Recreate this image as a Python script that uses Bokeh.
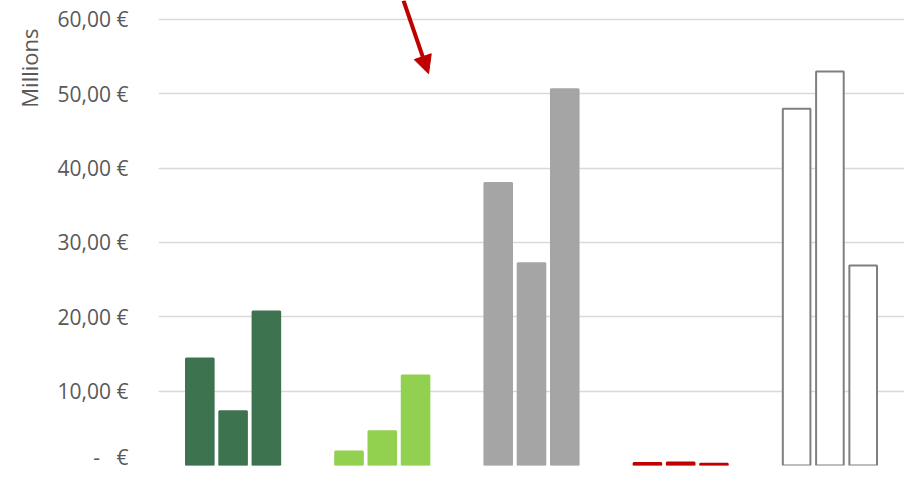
from bokeh.plotting import figure
from bokeh.models import ColumnDataSource, FactorRange, FixedTicker, Title, Arrow, NormalHead, Range1d
from bokeh.transform import dodge
from bokeh.embed import file_html
from bokeh.resources import INLINE

# ---- data (millions of euros) ----
categories = ["A", "B", "C", "D", "E"]
series_1 = [14.4, 1.9, 38.0, 0.35, 48.0]
series_2 = [7.3, 4.6, 27.2, 0.4, 53.0]
series_3 = [20.7, 12.1, 50.6, 0.25, 26.9]
fill_colors = ["#3E7350", "#92D050", "#A5A5A5", "#C00000", "#FFFFFF"]
line_colors = ["#3E7350", "#92D050", "#A5A5A5", "#C00000", "#7F7F7F"]
y_ticks = [0, 10, 20, 30, 40, 50, 60]
y_tick_labels = ["-\u00a0\u00a0\u00a0€", "10,00 €", "20,00 €", "30,00 €", "40,00 €", "50,00 €", "60,00 €"]

FONT = "Open Sans"
TXT = "#595959"
H = 470

p = figure(width=904, height=H, x_range=FactorRange(*categories, range_padding=0),
           y_range=Range1d(0, 62.55), output_backend="svg", toolbar_location=None,
           min_border_left=158, min_border_right=0, min_border_top=0, min_border_bottom=5)
p.outline_line_color = None
p.background_fill_color = "white"
p.border_fill_color = "white"

offsets = [-0.223, 0.0, 0.223]
for vals, off in zip([series_1, series_2, series_3], offsets):
    src = ColumnDataSource(dict(cat=categories, val=vals, fill=fill_colors, line=line_colors))
    p.vbar(x=dodge("cat", off, range=p.x_range), top="val", width=0.185, source=src,
           fill_color="fill", line_color="line", line_width=2)

p.xaxis.visible = False
p.xgrid.grid_line_color = None
p.ygrid.grid_line_color = "#D9D9D9"
p.ygrid.grid_line_width = 1.3

ya = p.yaxis[0]
ya.ticker = FixedTicker(ticks=y_ticks)
ya.major_label_overrides = {t: l for t, l in zip(y_ticks, y_tick_labels)}
ya.axis_line_color = None
ya.major_tick_line_color = None
ya.minor_tick_line_color = None
ya.major_label_standoff = 24
ya.major_label_text_font = FONT
ya.major_label_text_font_size = "21px"
ya.major_label_text_color = TXT

p.add_layout(Title(text="Millions", align="right", offset=28, standoff=22,
                   text_font=FONT, text_font_size="22px", text_color=TXT,
                   text_font_style="normal"), "left")

# red annotation arrow
arrow_start = (1.642, 62.55)
arrow_end = (1.810, 52.7)
p.add_layout(Arrow(x_start=arrow_start[0], y_start=arrow_start[1], x_end=arrow_end[0], y_end=arrow_end[1],
                   line_color="#C00000", line_width=4,
                   end=NormalHead(size=18, fill_color="#C00000", line_color="#C00000")))

open("out.html", "w").write(file_html(p, INLINE))
